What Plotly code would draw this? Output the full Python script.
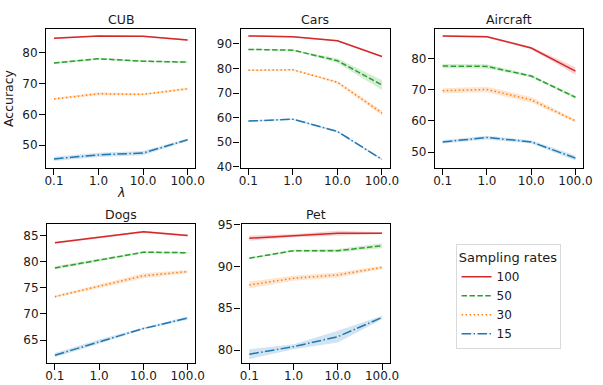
import plotly.graph_objects as go

lambdas = [0.1, 1.0, 10.0, 100.0]
lambda_labels = ["0.1", "1.0", "10.0", "100.0"]
rates = ["100", "50", "30", "15"]
datasets = ["CUB", "Cars", "Aircraft", "Dogs", "Pet"]

# mean accuracy per dataset and sampling rate (rows follow `rates`)
cub_mean = [[84.8, 85.5, 85.4, 84.2], [76.7, 78.1, 77.3, 77.0], [65.0, 66.7, 66.5, 68.3], [45.5, 46.8, 47.4, 51.7]]
cars_mean = [[93.3, 92.9, 91.3, 84.9], [87.8, 87.5, 83.2, 73.3], [79.3, 79.5, 74.4, 61.9], [58.6, 59.4, 54.4, 43.0]]
aircraft_mean = [[87.2, 87.0, 83.4, 76.0], [77.6, 77.5, 74.4, 67.6], [69.7, 70.1, 66.8, 60.0], [53.3, 54.7, 53.3, 48.1]]
dogs_mean = [[83.6, 84.7, 85.7, 85.0], [78.8, 80.3, 81.8, 81.7], [73.3, 75.3, 77.3, 78.1], [62.1, 64.7, 67.2, 69.2]]
pet_mean = [[93.4, 93.7, 94.0, 94.0], [91.0, 91.9, 91.9, 92.5], [87.8, 88.6, 89.0, 89.9], [79.5, 80.4, 81.6, 83.9]]

# half-width of the confidence band
cub_err = [[0.3, 0.2, 0.2, 0.3], [0.3, 0.3, 0.3, 0.3], [0.3, 0.5, 0.3, 0.4], [0.7, 0.7, 0.7, 0.4]]
cars_err = [[0.3, 0.3, 0.3, 0.3], [0.3, 0.3, 0.9, 2.0], [0.3, 0.3, 0.5, 1.0], [0.3, 0.3, 0.4, 0.4]]
aircraft_err = [[0.3, 0.3, 0.4, 1.2], [0.7, 0.7, 0.4, 0.5], [0.8, 0.9, 0.9, 0.5], [0.5, 0.6, 0.5, 0.8]]
dogs_err = [[0.2, 0.2, 0.2, 0.2], [0.3, 0.2, 0.2, 0.2], [0.2, 0.4, 0.5, 0.3], [0.4, 0.4, 0.2, 0.3]]
pet_err = [[0.3, 0.2, 0.3, 0.1], [0.1, 0.1, 0.2, 0.3], [0.4, 0.3, 0.3, 0.2], [0.6, 0.3, 0.7, 0.2]]

y_ranges = [[42.6, 87.7], [39.6, 96.0], [45.0, 89.4], [60.7, 87.2], [78.5, 95.1]]
y_ticks = [[50, 60, 70, 80], [40, 50, 60, 70, 80, 90], [50, 60, 70, 80], [65, 70, 75, 80, 85], [80, 85, 90, 95]]

means = [cub_mean, cars_mean, aircraft_mean, dogs_mean, pet_mean]
errs = [cub_err, cars_err, aircraft_err, dogs_err, pet_err]

colors = ["#d62728", "#2ca02c", "#ff7f0e", "#1f77b4"]
fills = ["rgba(214,39,40,0.2)", "rgba(44,160,44,0.2)", "rgba(255,127,14,0.2)", "rgba(31,119,180,0.2)"]
dashes = ["solid", "5.5px,2.4px", "1.5px,2.5px", "9.6px,2.4px,1.5px,2.4px"]

W, H = 603, 385
# pixel boxes (left, right, top, bottom)
boxes = [(45, 197, 24, 167), (243, 395, 24, 167), (441, 592, 24, 167),
         (46, 197, 225, 368), (244, 395, 225, 368)]

FONT = "DejaVu Sans"
TXT = "#1a1a1a"
TICK_SIZE = 12
LABEL_SIZE = 12.5

fig = go.Figure()
annotations = []
for i, name in enumerate(datasets):
    ax = "" if i == 0 else str(i + 1)
    xref = "x" + ax
    yref = "y" + ax
    for j, r in enumerate(rates):
        m = means[i][j]
        e = errs[i][j]
        up = [a + b for a, b in zip(m, e)]
        lo = [a - b for a, b in zip(m, e)]
        fig.add_trace(go.Scatter(
            x=lambdas + lambdas[::-1], y=up + lo[::-1], fill="toself",
            fillcolor=fills[j], line=dict(width=0), mode="lines",
            showlegend=False, hoverinfo="skip", xaxis=xref, yaxis=yref))
        fig.add_trace(go.Scatter(
            x=lambdas, y=m, mode="lines", name=r,
            line=dict(color=colors[j], width=1.5, dash=dashes[j]),
            showlegend=(i == 0), legendgroup=r, xaxis=xref, yaxis=yref))
    l, rr, t, b = boxes[i]
    xd = [l / W, rr / W]
    yd = [1 - b / H, 1 - t / H]
    axis_common = dict(showline=True, mirror=True, linecolor="black", linewidth=1.25,
                       ticks="outside", ticklen=6, tickwidth=1.25, tickcolor="black",
                       showgrid=False, zeroline=False,
                       tickfont=dict(family=FONT, size=TICK_SIZE, color=TXT))
    fig.layout["xaxis" + ax] = dict(domain=xd, anchor=yref, type="log",
                                    range=[-1.175, 2.175], tickvals=lambdas,
                                    ticktext=lambda_labels, ticklabelstandoff=-4,
                                    **axis_common)
    fig.layout["yaxis" + ax] = dict(domain=yd, anchor=xref, range=y_ranges[i],
                                    tickvals=y_ticks[i], ticklabelstandoff=-1,
                                    **axis_common)
    annotations.append(dict(text=name, x=(xd[0] + xd[1]) / 2, y=yd[1], xref="paper",
                            yref="paper", xanchor="center", yanchor="bottom", yshift=0,
                            showarrow=False, font=dict(family=FONT, size=LABEL_SIZE, color=TXT)))

fig.layout.yaxis.title = dict(text="Accuracy", font=dict(family=FONT, size=LABEL_SIZE, color=TXT), standoff=5)
annotations.append(dict(text="<i>λ</i>", x=(45 + 197) / 2 / W, y=1 - 192 / H, xref="paper", yref="paper",
                        xanchor="center", yanchor="middle", showarrow=False,
                        font=dict(family=FONT, size=LABEL_SIZE, color=TXT)))

fig.update_layout(
    width=W, height=H, margin=dict(l=0, r=0, t=0, b=0),
    paper_bgcolor="white", plot_bgcolor="white",
    annotations=annotations,
    legend=dict(x=462 / W, y=1 - 246 / H, xanchor="left", yanchor="top",
                bordercolor="#d9d9d9", borderwidth=1, bgcolor="white",
                font=dict(family=FONT, size=12, color=TXT), tracegroupgap=0,
                itemwidth=30,
                title=dict(text="Sampling rates", side="top center",
                           font=dict(family=FONT, size=13, color=TXT))),
    font=dict(family=FONT, color=TXT),
)

fig.write_html("out.html", config={"displayModeBar": False},
               post_script="document.body.style.margin='0';document.body.style.overflow='hidden';")
